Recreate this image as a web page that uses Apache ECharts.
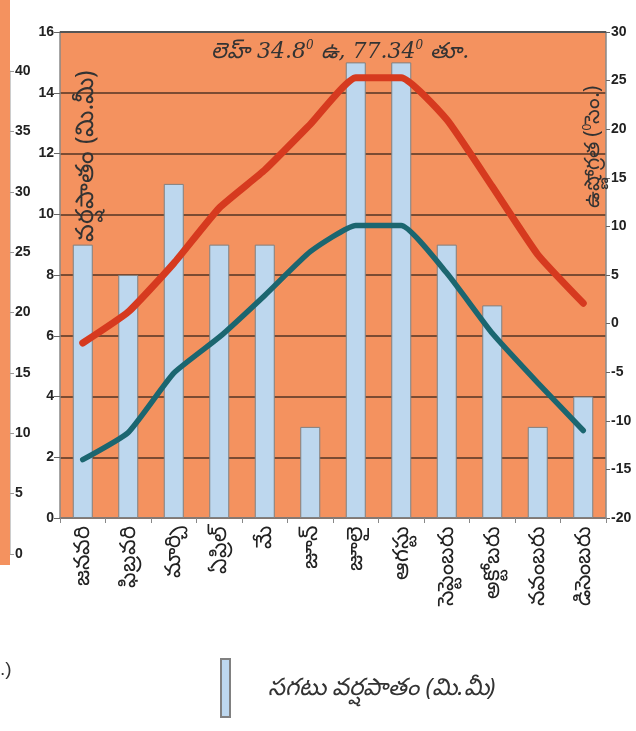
<!DOCTYPE html>
<html><head><meta charset="utf-8">
<script src="https://cdn.jsdelivr.net/npm/echarts@6/dist/echarts.min.js"></script>
<style>html,body{margin:0;padding:0;background:#fff}#c{width:636px;height:731px}</style>
</head><body><div id="c"></div>
<script>
const months = ['జనవరి','ఫిబ్రవరి','మార్చి','ఏప్రిల్','మే','జూన్','జూలై','ఆగస్టు','సెప్టెంబరు','అక్టోబరు','నవంబరు','డిసెంబరు'];
const rainfall = [9, 8, 11, 9, 9, 3, 15, 15, 9, 7, 3, 4];
const maxTemp = [-2, 1.2, 6.2, 11.9, 15.8, 20.5, 25.3, 25.3, 21, 14.1, 7.1, 2.1];
const minTemp = [-14, -11.2, -5.1, -1.4, 2.9, 7.4, 10.1, 10.1, 5.2, -1, -6.1, -11];
const rainTicks = {min: 0, max: 16, interval: 2};
const tempTicks = {min: -20, max: 30, interval: 5};
const stripTicks = {min: 0, max: 40, interval: 5};
const rainName = 'సగటు వర్షపాతం (మి.మీ)';
const maxName = 'సగటు గరిష్ఠ ఉష్ణోగ్రత';
const minName = 'సగటు కనిష్ఠ ఉష్ణోగ్రత';

const ORANGE = '#F4925F';
const chart = echarts.init(document.getElementById('c'), null, {renderer: 'canvas'});
const lbl = {color: '#222', fontFamily: 'Liberation Sans, Arial', fontWeight: 'bold', fontSize: 14};
chart.setOption({
  animation: false,
  backgroundColor: '#fff',
  title: {
    left: 206, top: 35,
    text: '{a|లెహ్ 34.8}{s|0}{a| ఉ, 77.34}{s|0}{a| తూ.}',
    textStyle: {
      fontWeight: 'normal',
      rich: {
        a: {fontSize: 22, fontStyle: 'italic', fontWeight: 'normal', fontFamily: 'DejaVu Serif, Liberation Serif, serif', color: '#333'},
        s: {fontSize: 12, fontStyle: 'italic', fontWeight: 'normal', fontFamily: 'DejaVu Serif, serif', color: '#333', verticalAlign: 'top', padding: [0,0,12,0]}
      }
    }
  },
  legend: {
    left: 215, top: 653,
    data: [rainName],
    icon: 'rect', itemWidth: 9, itemHeight: 58,
    textStyle: {fontSize: 24, fontStyle: 'italic', color: '#333', padding: [0,0,0,33], fontFamily: 'Noto Sans, sans-serif'}
  },
  grid: [
    {left: 60, right: 30, top: 32, bottom: 213, show: true, backgroundColor: ORANGE, borderColor: '#555', borderWidth: 0},
    {left: 0, width: 10, top: 71, height: 483, show: false}
  ],
  xAxis: [
    {type: 'category', data: months, gridIndex: 0,
     axisLine: {lineStyle: {color: '#888', width: 1.5}},
     axisTick: {show: true, length: 5, lineStyle: {color: '#888'}},
     axisLabel: {rotate: 90, margin: 8, color: '#222', fontSize: 22, fontFamily: 'Noto Sans, sans-serif'}},
    {type: 'category', data: months, gridIndex: 1, show: false}
  ],
  yAxis: [
    {type: 'value', gridIndex: 0, position: 'left', ...rainTicks,
     axisLine: {show: true, lineStyle: {color: '#888', width: 1.5}},
     axisTick: {show: true, length: 6, lineStyle: {color: '#666'}},
     axisLabel: {...lbl, margin: 6},
     splitLine: {show: true, lineStyle: {color: '#7B4B32', width: 2}}},
    {type: 'value', gridIndex: 0, position: 'right', ...tempTicks,
     axisLine: {show: true, lineStyle: {color: '#888', width: 1.5}},
     axisTick: {show: true, length: 4, lineStyle: {color: '#666'}},
     axisLabel: {...lbl, margin: 5},
     splitLine: {show: false}},
    {type: 'value', gridIndex: 1, position: 'right', ...stripTicks,
     axisLine: {show: true, lineStyle: {color: '#ccc', width: 1}},
     axisTick: {show: true, length: 4, lineStyle: {color: '#999'}},
     axisLabel: {...lbl, margin: 5},
     splitLine: {show: false}}
  ],
  graphic: [
    {type: 'rect', z: -10, shape: {x: 0, y: 0, width: 10, height: 565}, style: {fill: ORANGE}},
    {type: 'line', z: 5, shape: {x1: 60, y1: 32, x2: 606, y2: 32}, style: {stroke: '#555', lineWidth: 2}},
    {type: 'text', z: 10, x: 86, y: 156, rotation: Math.PI / 2,
     style: {text: 'వర్షపాతం (మి.మీ)', align: 'center', verticalAlign: 'middle', fontSize: 25, fill: '#333', fontFamily: 'Noto Sans, sans-serif'}},
    {type: 'text', z: 10, x: 593, y: 147, rotation: Math.PI / 2,
     style: {text: '{a|ఉష్ణోగ్రత (}{s|0}{a|సెం.)}', align: 'center', verticalAlign: 'middle',
       rich: {a: {fontSize: 21, fill: '#333', fontFamily: 'Noto Sans, sans-serif'},
              s: {fontSize: 12, fill: '#333', verticalAlign: 'top', padding: [0,0,10,0]}}}},
    {type: 'text', x: 0, y: 660, style: {text: '.)', fontSize: 19, fill: '#333'}}
  ],
  series: [
    {name: rainName, type: 'bar', xAxisIndex: 0, yAxisIndex: 0, data: rainfall, barWidth: 20,
     itemStyle: {color: '#BDD7EE', borderColor: '#808080', borderWidth: 1}},
    {name: maxName, type: 'line', xAxisIndex: 0, yAxisIndex: 1, data: maxTemp, smooth: 0.15,
     showSymbol: false, lineStyle: {color: '#D63A1F', width: 7, cap: 'round'}, z: 3},
    {name: minName, type: 'line', xAxisIndex: 0, yAxisIndex: 1, data: minTemp, smooth: 0.15,
     showSymbol: false, lineStyle: {color: '#1B6670', width: 5.5, cap: 'round'}, z: 3}
  ]
});
</script></body></html>
